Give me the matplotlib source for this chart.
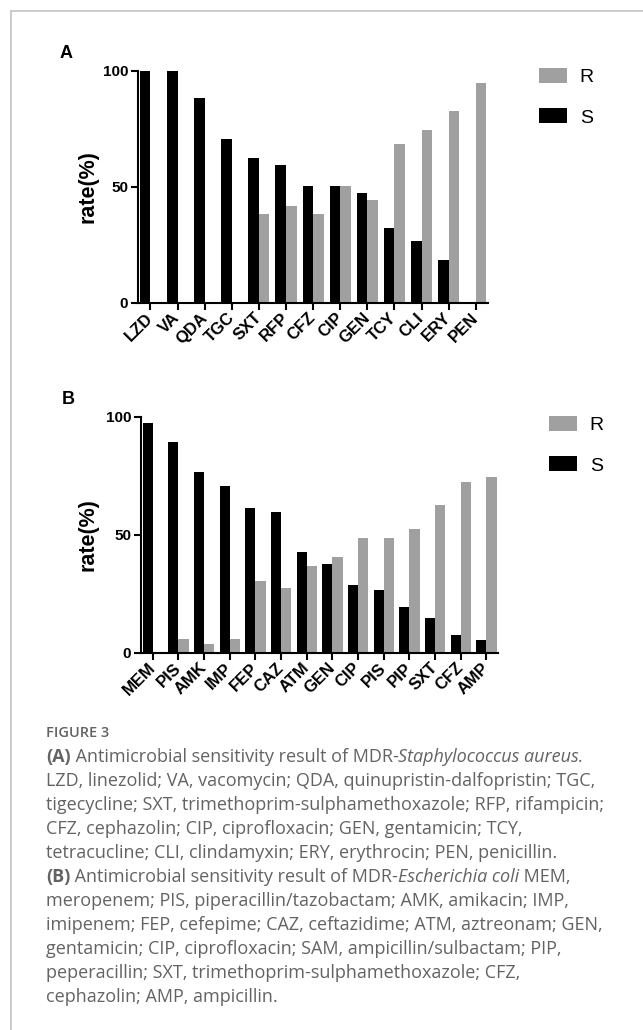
import matplotlib
matplotlib.use('Agg')
import matplotlib.pyplot as plt
from matplotlib.lines import Line2D
import numpy as np

plt.rcParams['font.family'] = ['Liberation Sans', 'DejaVu Sans']

# panel A - MDR S. aureus
drugs_a = ['LZD', 'VA', 'QDA', 'TGC', 'SXT', 'RFP', 'CFZ', 'CIP', 'GEN', 'TCY', 'CLI', 'ERY', 'PEN']
r_a = [0, 0, 0, 0, 38.5, 41.7, 38.5, 50.6, 44.5, 68.5, 74.6, 82.6, 94.7]
s_a = [100, 100, 88.5, 70.5, 62.6, 59.6, 50.6, 50.6, 47.6, 32.5, 26.7, 18.7, 0]

# panel B - MDR E. coli
drugs_b = ['MEM', 'PIS', 'AMK', 'IMP', 'FEP', 'CAZ', 'ATM', 'GEN', 'CIP', 'PIS', 'PIP', 'SXT', 'CFZ', 'AMP']
r_b = [0, 5.8, 3.8, 5.8, 30.7, 27.6, 36.8, 40.7, 48.6, 48.6, 52.5, 62.5, 72.4, 74.5]
s_b = [97.5, 89.6, 76.5, 70.6, 61.5, 59.6, 42.7, 37.7, 28.7, 26.8, 19.7, 14.8, 7.6, 5.6]

W, H = 643, 1030
GRAY = '#a0a0a0'
CAP_COLOR = '#636363'

fig = plt.figure(figsize=(W / 100, H / 100), dpi=100)

# thin frame round the figure (left + top only)
fig.add_artist(Line2D([11 / W, 11 / W], [0, 1 - 11 / H], transform=fig.transFigure,
                      color='#c4c4c4', lw=1.2))
fig.add_artist(Line2D([11 / W, 1], [1 - 11 / H, 1 - 11 / H], transform=fig.transFigure,
                      color='#c4c4c4', lw=1.2))


def px_axes(left, top, right, bottom):
    return fig.add_axes([left / W, 1 - bottom / H, (right - left) / W, (bottom - top) / H])


def draw_panel(ax, drugs, r, s, width, leg_xy, ylab_x):
    x = np.arange(len(drugs))
    hs = ax.bar(x - width / 2, s, width, color='black', label='S')
    hr = ax.bar(x + width / 2, r, width, color=GRAY, label='R')
    ax.set_ylim(0, 100)
    ax.set_xlim(-0.46, len(drugs) - 0.55)
    ax.set_yticks([0, 50, 100])
    ax.set_xticks(x)
    ax.set_xticklabels(drugs, rotation=45, ha='right', va='center',
                       rotation_mode='anchor', fontsize=12, fontweight='bold')
    for lab in ax.get_yticklabels():
        lab.set_fontsize(11)
        lab.set_fontweight('bold')
    for sp in ['top', 'right']:
        ax.spines[sp].set_visible(False)
    for sp in ['left', 'bottom']:
        ax.spines[sp].set_linewidth(1.5)
    ax.tick_params(axis='both', width=1.5, length=5, pad=2)
    ax.tick_params(axis='x', pad=4)
    ax.set_ylabel('rate(%)', fontsize=15.5, fontweight='bold')
    ax.yaxis.label.set_va('center')
    ax.yaxis.set_label_coords(ylab_x, 0.5)
    ax.legend([hr, hs], ['R', 'S'], loc='upper left',
              bbox_to_anchor=(leg_xy[0] / W, 1 - leg_xy[1] / H),
              bbox_transform=fig.transFigure, frameon=False, fontsize=14,
              handlelength=1.45, handleheight=0.78, handletextpad=0.65,
              labelspacing=1.15, borderpad=0, borderaxespad=0)


ax_a = px_axes(138, 71, 488, 303)
draw_panel(ax_a, drugs_a, r_a, s_a, 0.39, (539, 68), -0.143)

ax_b = px_axes(141, 417, 498, 653)
draw_panel(ax_b, drugs_b, r_b, s_b, 0.40, (549, 416), -0.148)

fig.text(60 / W, 1 - 54 / H, 'A', fontsize=13, fontweight='bold', va='center')
fig.text(62 / W, 1 - 399 / H, 'B', fontsize=13, fontweight='bold', va='center')

# caption
cap_font = ['Open Sans', 'DejaVu Sans']
cap_size = 13
rend = fig.canvas.get_renderer()


def seg_width(txt, **kw):
    a = fig.text(0, 0, '|' + txt + '|', **kw)
    b = fig.text(0, 0, '||', **kw)
    w = a.get_window_extent(rend).width - b.get_window_extent(rend).width
    a.remove()
    b.remove()
    return w


def caption_line(y, parts):
    x = 46
    for txt, style in parts:
        kw = dict(family=cap_font, fontsize=cap_size, color=CAP_COLOR)
        if style == 'b':
            kw['fontweight'] = 'bold'
        elif style == 'i':
            kw['fontstyle'] = 'italic'
        fig.text(x / W, 1 - y / H, txt, va='center', ha='left', **kw)
        x += seg_width(txt, **kw)


fig.text(46 / W, 1 - 733 / H, 'FIGURE 3', family=cap_font, fontsize=10.5,
         fontweight='semibold', color=CAP_COLOR, va='center')

cap_lines = [
    [('(A)', 'b'), (' Antimicrobial sensitivity result of MDR-', 'n'),
     ('Staphylococcus aureus.', 'i')],
    [('LZD, linezolid; VA, vacomycin; QDA, quinupristin-dalfopristin; TGC,', 'n')],
    [('tigecycline; SXT, trimethoprim-sulphamethoxazole; RFP, rifampicin;', 'n')],
    [('CFZ, cephazolin; CIP, ciprofloxacin; GEN, gentamicin; TCY,', 'n')],
    [('tetracucline; CLI, clindamyxin; ERY, erythrocin; PEN, penicillin.', 'n')],
    [('(B)', 'b'), (' Antimicrobial sensitivity result of MDR-', 'n'),
     ('Escherichia coli', 'i'), (' MEM,', 'n')],
    [('meropenem; PIS, piperacillin/tazobactam; AMK, amikacin; IMP,', 'n')],
    [('imipenem; FEP, cefepime; CAZ, ceftazidime; ATM, aztreonam; GEN,', 'n')],
    [('gentamicin; CIP, ciprofloxacin; SAM, ampicillin/sulbactam; PIP,', 'n')],
    [('peperacillin; SXT, trimethoprim-sulphamethoxazole; CFZ,', 'n')],
    [('cephazolin; AMP, ampicillin.', 'n')],
]
for i, parts in enumerate(cap_lines):
    caption_line(757 + 24 * i, parts)

fig.savefig('out.png', dpi=100)
